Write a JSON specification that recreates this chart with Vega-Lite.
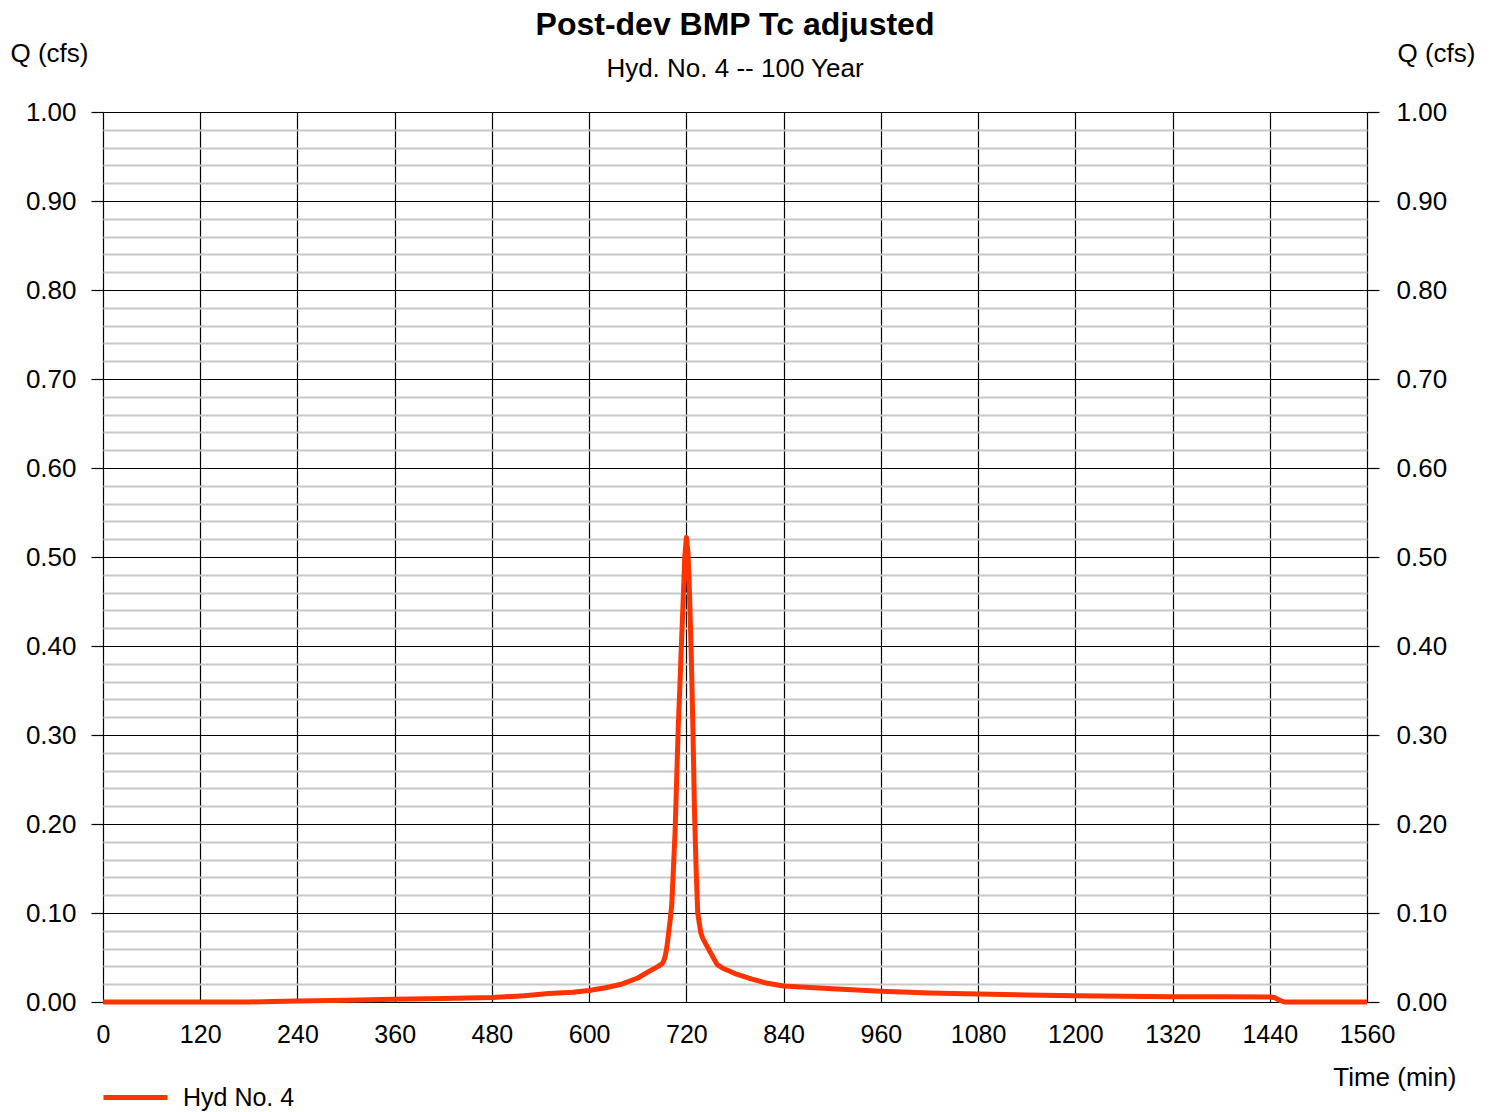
{
  "$schema": "https://vega.github.io/schema/vega-lite/v6.json",
  "autosize": "none",
  "width": 1264,
  "height": 890,
  "padding": {"left": 103, "top": 112, "right": 127, "bottom": 110},
  "background": "white",
  "config": {
    "view": {"stroke": null},
    "font": "Liberation Sans",
    "axis": {"labelFont": "Liberation Sans", "titleFont": "Liberation Sans", "labelColor": "black", "titleColor": "black", "titleFontWeight": "normal"}
  },
  "title": {
    "text": "Post-dev BMP Tc adjusted",
    "subtitle": "Hyd. No. 4 -- 100 Year",
    "anchor": "middle",
    "font": "Liberation Sans",
    "subtitleFont": "Liberation Sans",
    "fontSize": 32,
    "fontWeight": "bold",
    "subtitleFontSize": 26,
    "color": "black",
    "subtitleColor": "black",
    "offset": -43,
    "subtitlePadding": 14
  },
  "data": {
    "values": [
      {"time": 0, "q": 0, "series": "Hyd No. 4"},
      {"time": 60, "q": 0, "series": "Hyd No. 4"},
      {"time": 120, "q": 0, "series": "Hyd No. 4"},
      {"time": 180, "q": 0, "series": "Hyd No. 4"},
      {"time": 210, "q": 0.0005, "series": "Hyd No. 4"},
      {"time": 240, "q": 0.0012, "series": "Hyd No. 4"},
      {"time": 300, "q": 0.002, "series": "Hyd No. 4"},
      {"time": 360, "q": 0.003, "series": "Hyd No. 4"},
      {"time": 420, "q": 0.004, "series": "Hyd No. 4"},
      {"time": 480, "q": 0.005, "series": "Hyd No. 4"},
      {"time": 520, "q": 0.007, "series": "Hyd No. 4"},
      {"time": 550, "q": 0.0095, "series": "Hyd No. 4"},
      {"time": 580, "q": 0.011, "series": "Hyd No. 4"},
      {"time": 600, "q": 0.013, "series": "Hyd No. 4"},
      {"time": 620, "q": 0.016, "series": "Hyd No. 4"},
      {"time": 640, "q": 0.02, "series": "Hyd No. 4"},
      {"time": 660, "q": 0.027, "series": "Hyd No. 4"},
      {"time": 675, "q": 0.035, "series": "Hyd No. 4"},
      {"time": 685, "q": 0.04, "series": "Hyd No. 4"},
      {"time": 690, "q": 0.043, "series": "Hyd No. 4"},
      {"time": 692, "q": 0.046, "series": "Hyd No. 4"},
      {"time": 694, "q": 0.052, "series": "Hyd No. 4"},
      {"time": 696, "q": 0.062, "series": "Hyd No. 4"},
      {"time": 698, "q": 0.077, "series": "Hyd No. 4"},
      {"time": 700, "q": 0.092, "series": "Hyd No. 4"},
      {"time": 702, "q": 0.11, "series": "Hyd No. 4"},
      {"time": 704, "q": 0.15, "series": "Hyd No. 4"},
      {"time": 706, "q": 0.19, "series": "Hyd No. 4"},
      {"time": 708, "q": 0.25, "series": "Hyd No. 4"},
      {"time": 710, "q": 0.31, "series": "Hyd No. 4"},
      {"time": 712, "q": 0.355, "series": "Hyd No. 4"},
      {"time": 714, "q": 0.405, "series": "Hyd No. 4"},
      {"time": 716, "q": 0.45, "series": "Hyd No. 4"},
      {"time": 718, "q": 0.5, "series": "Hyd No. 4"},
      {"time": 720, "q": 0.522, "series": "Hyd No. 4"},
      {"time": 722, "q": 0.505, "series": "Hyd No. 4"},
      {"time": 724, "q": 0.455, "series": "Hyd No. 4"},
      {"time": 726, "q": 0.39, "series": "Hyd No. 4"},
      {"time": 728, "q": 0.31, "series": "Hyd No. 4"},
      {"time": 730, "q": 0.215, "series": "Hyd No. 4"},
      {"time": 732, "q": 0.15, "series": "Hyd No. 4"},
      {"time": 734, "q": 0.1, "series": "Hyd No. 4"},
      {"time": 736, "q": 0.088, "series": "Hyd No. 4"},
      {"time": 738, "q": 0.077, "series": "Hyd No. 4"},
      {"time": 740, "q": 0.072, "series": "Hyd No. 4"},
      {"time": 744, "q": 0.065, "series": "Hyd No. 4"},
      {"time": 750, "q": 0.055, "series": "Hyd No. 4"},
      {"time": 758, "q": 0.042, "series": "Hyd No. 4"},
      {"time": 765, "q": 0.038, "series": "Hyd No. 4"},
      {"time": 780, "q": 0.032, "series": "Hyd No. 4"},
      {"time": 800, "q": 0.026, "series": "Hyd No. 4"},
      {"time": 820, "q": 0.021, "series": "Hyd No. 4"},
      {"time": 840, "q": 0.018, "series": "Hyd No. 4"},
      {"time": 900, "q": 0.015, "series": "Hyd No. 4"},
      {"time": 960, "q": 0.012, "series": "Hyd No. 4"},
      {"time": 1020, "q": 0.01, "series": "Hyd No. 4"},
      {"time": 1080, "q": 0.009, "series": "Hyd No. 4"},
      {"time": 1140, "q": 0.008, "series": "Hyd No. 4"},
      {"time": 1200, "q": 0.007, "series": "Hyd No. 4"},
      {"time": 1260, "q": 0.0065, "series": "Hyd No. 4"},
      {"time": 1320, "q": 0.006, "series": "Hyd No. 4"},
      {"time": 1380, "q": 0.0058, "series": "Hyd No. 4"},
      {"time": 1440, "q": 0.0055, "series": "Hyd No. 4"},
      {"time": 1446, "q": 0.005, "series": "Hyd No. 4"},
      {"time": 1452, "q": 0.002, "series": "Hyd No. 4"},
      {"time": 1458, "q": 0, "series": "Hyd No. 4"},
      {"time": 1500, "q": 0, "series": "Hyd No. 4"},
      {"time": 1560, "q": 0, "series": "Hyd No. 4"}
    ]
  },
  "layer": [
    {
      "mark": {"type": "line", "strokeWidth": 5, "interpolate": "linear", "strokeJoin": "round"},
      "encoding": {
        "x": {
          "field": "time", "type": "quantitative",
          "scale": {"domain": [0, 1560], "nice": false, "zero": false},
          "axis": {
            "values": [0, 120, 240, 360, 480, 600, 720, 840, 960, 1080, 1200, 1320, 1440, 1560],
            "format": "d",
            "title": "Time (min)",
            "titleX": 1353, "titleY": 75, "titleAlign": "right", "titleBaseline": "middle",
            "titleFontSize": 26,
            "labelFontSize": 25,
            "labelPadding": 20,
            "ticks": false, "tickSize": 0,
            "domain": false,
            "grid": true, "gridColor": "black", "gridWidth": 1.2, "gridOpacity": 1,
            "labelOverlap": false, "labelFlush": false
          }
        },
        "y": {
          "field": "q", "type": "quantitative",
          "scale": {"domain": [0, 1], "nice": false},
          "axis": {
            "orient": "left",
            "values": [0, 0.02, 0.04, 0.06, 0.08, 0.1, 0.12, 0.14, 0.16, 0.18, 0.2, 0.22, 0.24, 0.26, 0.28, 0.3, 0.32, 0.34, 0.36, 0.38, 0.4, 0.42, 0.44, 0.46, 0.48, 0.5, 0.52, 0.54, 0.56, 0.58, 0.6, 0.62, 0.64, 0.66, 0.68, 0.7, 0.72, 0.74, 0.76, 0.78, 0.8, 0.82, 0.84, 0.86, 0.88, 0.9, 0.92, 0.94, 0.96, 0.98, 1.0],
            "labelExpr": "round(datum.value*100) % 10 == 0 ? format(datum.value, '.2f') : ''",
            "labelFontSize": 26,
            "labelPadding": 15,
            "labelOverlap": false, "labelFlush": false,
            "tickSize": 12, "tickColor": "black", "tickWidth": 1.2,
            "tickOpacity": {"condition": {"test": "round(datum.value*100) % 10 == 0", "value": 1}, "value": 0},
            "domain": false,
            "grid": true,
            "gridColor": {"condition": {"test": "round(datum.value*100) % 10 == 0", "value": "black"}, "value": "#c8c8c8"},
            "gridWidth": {"condition": {"test": "round(datum.value*100) % 10 == 0", "value": 1.2}, "value": 2},
            "gridOpacity": 1,
            "title": "Q (cfs)",
            "titleAngle": 0, "titleX": -93, "titleY": -59, "titleAlign": "left", "titleBaseline": "middle",
            "titleFontSize": 26
          }
        },
        "color": {
          "field": "series", "type": "nominal",
          "scale": {"range": ["#ff3300"]},
          "legend": {
            "orient": "none", "legendX": -2, "legendY": 951,
            "title": null, "symbolType": "stroke", "symbolSize": 4096, "symbolStrokeWidth": 5,
            "labelFontSize": 25, "labelFont": "Liberation Sans", "labelColor": "black", "labelOffset": 13, "padding": 0
          }
        }
      }
    },
    {
      "mark": {"type": "line", "strokeOpacity": 0},
      "encoding": {
        "x": {"field": "time", "type": "quantitative"},
        "y": {
          "field": "q", "type": "quantitative",
          "scale": {"domain": [0, 1], "nice": false},
          "axis": {
            "orient": "right",
            "values": [0, 0.1, 0.2, 0.3, 0.4, 0.5, 0.6, 0.7, 0.8, 0.9, 1.0],
            "format": ".2f",
            "labelFontSize": 26,
            "labelPadding": 17,
            "labelOverlap": false, "labelFlush": false,
            "tickSize": 12, "tickColor": "black", "tickWidth": 1.2,
            "domain": false, "grid": false,
            "title": "Q (cfs)",
            "titleAngle": 0, "titleX": 30, "titleY": -59, "titleAlign": "left", "titleBaseline": "middle",
            "titleFontSize": 26
          }
        }
      }
    }
  ],
  "resolve": {"scale": {"y": "independent"}}
}
